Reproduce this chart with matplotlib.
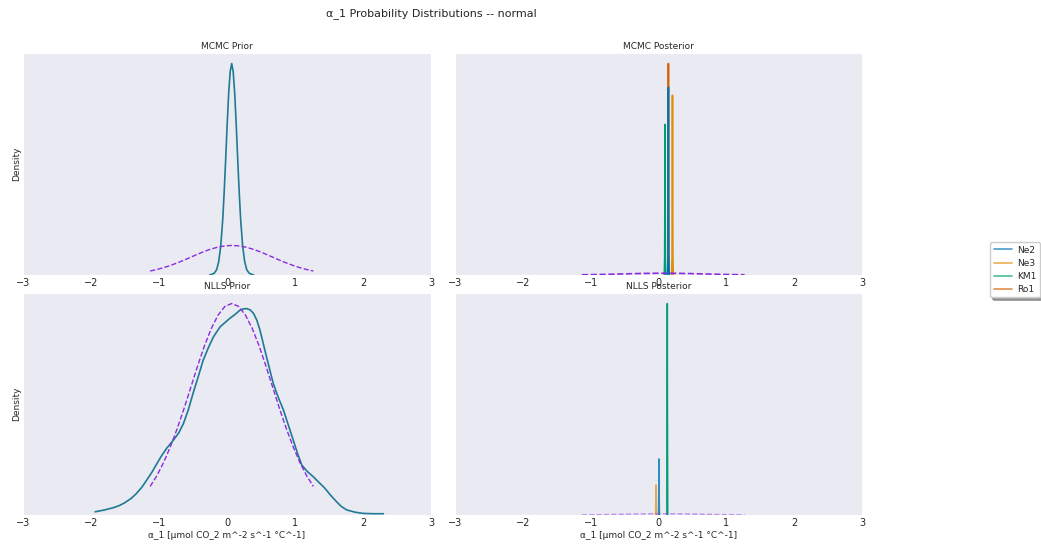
import matplotlib
matplotlib.use("Agg")
import matplotlib.pyplot as plt
import seaborn as sns

sns.set_style("dark")
plt.rcParams['font.family'] = ['DejaVu Sans']

sites = ['Ne2', 'Ne3', 'KM1', 'Ro1']
site_colors = ['#0173B2', '#DE8F05', '#029E73', '#D55E00']

# prior pdf (dashed), same in every panel
prior_x = [-1.13, -1.03, -0.93, -0.83, -0.73, -0.63, -0.53, -0.43, -0.33, -0.23, -0.13, -0.03,
           0.07, 0.17, 0.27, 0.37, 0.47, 0.57, 0.67, 0.77, 0.87, 0.97, 1.07, 1.17, 1.27]
prior_pdf = [0.090, 0.124, 0.166, 0.216, 0.273, 0.336, 0.403, 0.470, 0.533, 0.587, 0.629, 0.656,
             0.665, 0.656, 0.629, 0.587, 0.533, 0.470, 0.403, 0.336, 0.273, 0.216, 0.166, 0.124, 0.090]

# MCMC prior kde
mcmc_prior_x = [-0.255, -0.225, -0.188, -0.152, -0.122, -0.093, -0.063, -0.041, -0.019, 0.003, 0.025, 0.047,
                0.069, 0.091, 0.113, 0.135, 0.157, 0.179, 0.201, 0.231, 0.260, 0.290, 0.326, 0.363, 0.393]
mcmc_prior_d = [0.002, 0.015, 0.04, 0.12, 0.30, 0.64, 1.24, 1.88, 2.62, 3.41, 4.10, 4.58,
                4.76, 4.58, 4.10, 3.41, 2.62, 1.88, 1.24, 0.64, 0.30, 0.12, 0.04, 0.015, 0.002]

# NLLS prior kde
nlls_prior_x = [-1.94, -1.80, -1.67, -1.58, -1.50, -1.41, -1.33, -1.25, -1.18, -1.10, -1.03, -0.96,
                -0.89, -0.79, -0.71, -0.64, -0.57, -0.50, -0.42, -0.35, -0.27, -0.20, -0.10, -0.03,
                0.04, 0.12, 0.19, 0.24, 0.29, 0.34, 0.39, 0.44, 0.485, 0.53, 0.58, 0.63, 0.68, 0.75,
                0.83, 0.90, 0.975, 1.04, 1.10, 1.18, 1.27, 1.35, 1.44, 1.52, 1.61, 1.68, 1.76, 1.88,
                2.00, 2.15, 2.30]
nlls_prior_d = [0.010, 0.016, 0.023, 0.030, 0.039, 0.052, 0.068, 0.088, 0.110, 0.136, 0.162, 0.187,
                0.209, 0.235, 0.258, 0.288, 0.330, 0.382, 0.437, 0.487, 0.528, 0.560, 0.592, 0.605,
                0.618, 0.631, 0.644, 0.648, 0.649, 0.645, 0.634, 0.612, 0.581, 0.542, 0.498, 0.456,
                0.414, 0.372, 0.330, 0.284, 0.235, 0.192, 0.157, 0.137, 0.120, 0.103, 0.084, 0.063,
                0.042, 0.027, 0.016, 0.009, 0.005, 0.004, 0.004]

# MCMC posterior kdes (very narrow)
mcmc_ne2_x = [0.134, 0.140, 0.143, 0.146, 0.149, 0.152, 0.158]
mcmc_ne2_d = [0, 7, 36, 71, 36, 7, 0]
mcmc_ne3_x = [0.194, 0.200, 0.203, 0.206, 0.209, 0.212, 0.218]
mcmc_ne3_d = [0, 7, 34, 68, 34, 7, 0]
mcmc_km1_x = [0.084, 0.090, 0.093, 0.096, 0.099, 0.102, 0.108]
mcmc_km1_d = [0, 6, 28, 57, 28, 6, 0]
mcmc_ro1_x = [0.136, 0.141, 0.144, 0.146, 0.148, 0.151, 0.156]
mcmc_ro1_d = [0, 8, 40, 80, 40, 8, 0]

# NLLS posterior
nlls_ne2_x = [0.001, 0.005, 0.007, 0.009, 0.013]
nlls_ne2_d = [0, 16, 31.8, 16, 0]
nlls_ne3_x = [-0.043, -0.039, -0.037, -0.035, -0.031]
nlls_ne3_d = [0, 8.5, 17, 8.5, 0]
nlls_km1_x = [0.124, 0.128, 0.130, 0.132, 0.136]
nlls_km1_d = [0, 60, 120, 60, 0]

kde_color = '#1f7a93'
prior_color = '#8a2be2'
xlabel = 'α_1 [μmol CO_2 m^-2 s^-1 °C^-1]'

fig = plt.figure(figsize=(10.41, 5.44), dpi=100)
W, H = 1041, 544


def make_ax(x0, x1, ytop, ybot):
    return fig.add_axes([x0 / W, 1 - ybot / H, (x1 - x0) / W, (ybot - ytop) / H])


ax1 = make_ax(23, 431, 53, 275)
ax2 = make_ax(455, 862, 53, 275)
ax3 = make_ax(23, 431, 293, 515)
ax4 = make_ax(455, 862, 293, 515)

# MCMC prior
ax1.plot(mcmc_prior_x, mcmc_prior_d, color=kde_color, lw=1.2)
ax1.plot(prior_x, prior_pdf, color=prior_color, lw=1.0, ls='--')
ax1.set_title('MCMC Prior', fontsize=6.5, pad=3)

# MCMC posterior
ax2.plot(mcmc_ro1_x, mcmc_ro1_d, color=site_colors[3], lw=1.2, zorder=2)
ax2.plot(mcmc_km1_x, mcmc_km1_d, color=site_colors[2], lw=1.1, zorder=3)
ax2.plot(mcmc_ne3_x, mcmc_ne3_d, color=site_colors[1], lw=1.2, zorder=3)
ax2.plot(mcmc_ne2_x, mcmc_ne2_d, color=site_colors[0], lw=1.2, zorder=4)
ax2.plot(prior_x, prior_pdf, color=prior_color, lw=1.2, ls='--', zorder=5)
ax2.set_title('MCMC Posterior', fontsize=6.5, pad=3)

# NLLS prior
ax3.plot(nlls_prior_x, nlls_prior_d, color=kde_color, lw=1.2)
ax3.plot(prior_x, prior_pdf, color=prior_color, lw=1.0, ls='--')
ax3.set_title('NLLS Prior', fontsize=6.5, pad=3)

# NLLS posterior
ax4.plot(nlls_ne3_x, nlls_ne3_d, color=site_colors[1], lw=1.2, alpha=0.7)
ax4.plot(nlls_ne2_x, nlls_ne2_d, color=site_colors[0], lw=1.2, alpha=0.8)
ax4.plot(nlls_km1_x, nlls_km1_d, color=site_colors[2], lw=1.1)
ax4.plot(prior_x, prior_pdf, color=prior_color, lw=1.0, ls='--', alpha=0.5)
ax4.set_title('NLLS Posterior', fontsize=6.5, pad=3)

for ax in [ax1, ax2, ax3, ax4]:
    ax.set_xlim(-3, 3)
    ax.set_ylim(bottom=0)
    ax.set_yticks([])
    ax.tick_params(axis='x', labelsize=7, pad=2.5, length=0)

ax1.set_ylabel('Density', fontsize=6.5, labelpad=1.5)
ax3.set_ylabel('Density', fontsize=6.5, labelpad=1.5)
ax3.set_xlabel(xlabel, fontsize=6.5, labelpad=1.5)
ax4.set_xlabel(xlabel, fontsize=6.5, labelpad=1.5)

handles = [plt.Line2D([], [], color=c, lw=1.2, alpha=0.7) for c in site_colors]
fig.legend(handles, sites, loc='upper left', bbox_to_anchor=(990 / W, 1 - 242 / H),
           fontsize=6.5, labelspacing=0.45, handlelength=2.0, handletextpad=0.6,
           borderaxespad=0, borderpad=0.4,
           frameon=True, edgecolor='0.8', facecolor='white', framealpha=1, shadow=True)

fig.suptitle('α_1 Probability Distributions -- normal', x=431 / W, y=1 - 8 / H,
             va='top', fontsize=8)

fig.savefig('out.png', dpi=100)
